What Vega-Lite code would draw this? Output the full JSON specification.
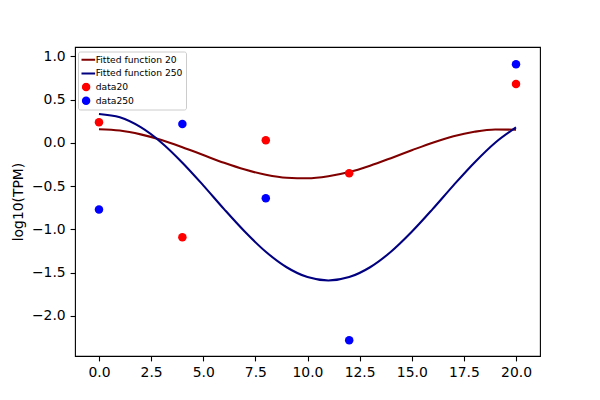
{
  "$schema": "https://vega.github.io/schema/vega-lite/v6.json",
  "width": 465,
  "height": 309,
  "autosize": {"type": "none"},
  "padding": {"left": 75, "top": 47, "right": 60, "bottom": 44},
  "background": "white",
  "datasets": {
    "curves": [
      {"series": "Fitted function 20", "x": 0, "y": 0.158},
      {"series": "Fitted function 20", "x": 1, "y": 0.143},
      {"series": "Fitted function 20", "x": 2, "y": 0.099},
      {"series": "Fitted function 20", "x": 3, "y": 0.034},
      {"series": "Fitted function 20", "x": 4, "y": -0.049},
      {"series": "Fitted function 20", "x": 5, "y": -0.140},
      {"series": "Fitted function 20", "x": 6, "y": -0.230},
      {"series": "Fitted function 20", "x": 7, "y": -0.308},
      {"series": "Fitted function 20", "x": 8, "y": -0.368},
      {"series": "Fitted function 20", "x": 9, "y": -0.403},
      {"series": "Fitted function 20", "x": 10, "y": -0.409},
      {"series": "Fitted function 20", "x": 11, "y": -0.385},
      {"series": "Fitted function 20", "x": 12, "y": -0.337},
      {"series": "Fitted function 20", "x": 13, "y": -0.263},
      {"series": "Fitted function 20", "x": 14, "y": -0.176},
      {"series": "Fitted function 20", "x": 15, "y": -0.085},
      {"series": "Fitted function 20", "x": 16, "y": 0.003},
      {"series": "Fitted function 20", "x": 17, "y": 0.077},
      {"series": "Fitted function 20", "x": 18, "y": 0.129},
      {"series": "Fitted function 20", "x": 19, "y": 0.156},
      {"series": "Fitted function 20", "x": 20, "y": 0.153},
      {"series": "Fitted function 250", "x": 0, "y": 0.335},
      {"series": "Fitted function 250", "x": 1, "y": 0.296},
      {"series": "Fitted function 250", "x": 2, "y": 0.182},
      {"series": "Fitted function 250", "x": 3, "y": 0.003},
      {"series": "Fitted function 250", "x": 4, "y": -0.228},
      {"series": "Fitted function 250", "x": 5, "y": -0.490},
      {"series": "Fitted function 250", "x": 6, "y": -0.765},
      {"series": "Fitted function 250", "x": 7, "y": -1.027},
      {"series": "Fitted function 250", "x": 8, "y": -1.258},
      {"series": "Fitted function 250", "x": 9, "y": -1.437},
      {"series": "Fitted function 250", "x": 10, "y": -1.551},
      {"series": "Fitted function 250", "x": 11, "y": -1.590},
      {"series": "Fitted function 250", "x": 12, "y": -1.551},
      {"series": "Fitted function 250", "x": 13, "y": -1.437},
      {"series": "Fitted function 250", "x": 14, "y": -1.258},
      {"series": "Fitted function 250", "x": 15, "y": -1.027},
      {"series": "Fitted function 250", "x": 16, "y": -0.765},
      {"series": "Fitted function 250", "x": 17, "y": -0.490},
      {"series": "Fitted function 250", "x": 18, "y": -0.228},
      {"series": "Fitted function 250", "x": 19, "y": 0.003},
      {"series": "Fitted function 250", "x": 20, "y": 0.180}
    ],
    "points": [
      {"series": "data20", "x": 0, "y": 0.24},
      {"series": "data20", "x": 4, "y": -1.09},
      {"series": "data20", "x": 8, "y": 0.03},
      {"series": "data20", "x": 12, "y": -0.35},
      {"series": "data20", "x": 20, "y": 0.68},
      {"series": "data250", "x": 0, "y": -0.77},
      {"series": "data250", "x": 4, "y": 0.22},
      {"series": "data250", "x": 8, "y": -0.64},
      {"series": "data250", "x": 12, "y": -2.28},
      {"series": "data250", "x": 20, "y": 0.91}
    ]
  },
  "encoding": {
    "x": {
      "field": "x", "type": "quantitative",
      "scale": {"domain": [-1.15, 21.15], "nice": false, "zero": false},
      "axis": {"values": [0, 2.5, 5, 7.5, 10, 12.5, 15, 17.5, 20], "format": ".1f", "title": null}
    },
    "y": {
      "field": "y", "type": "quantitative",
      "scale": {"domain": [-2.463, 1.109], "nice": false, "zero": false},
      "axis": {"values": [-2, -1.5, -1, -0.5, 0, 0.5, 1], "format": ".1f", "title": "log10(TPM)"}
    },
    "color": {
      "field": "series", "type": "nominal",
      "scale": {
        "domain": ["Fitted function 20", "Fitted function 250", "data20", "data250"],
        "range": ["#800000", "#000080", "#ff0000", "#0000ff"]
      },
      "legend": {
        "title": null,
        "orient": "none",
        "legendX": 3,
        "legendY": 4.5,
        "strokeColor": "#cccccc",
        "fillColor": "rgba(255,255,255,0.8)",
        "cornerRadius": 2,
        "padding": 3.5,
        "labelFont": "DejaVu Sans",
        "labelFontSize": 9.2,
        "labelLimit": 300,
        "labelColor": "black",
        "symbolSize": 324,
        "symbolType": "stroke",
        "clipHeight": 9.4,
        "rowPadding": 3.7,
        "labelOffset": 5,
        "encode": {
          "symbols": {
            "update": {
              "shape": {"signal": "indexof(['data20','data250'], datum.value) >= 0 ? 'circle' : 'stroke'"},
              "size": {"signal": "indexof(['data20','data250'], datum.value) >= 0 ? 72 : 324"},
              "fill": {"scale": "color", "field": "value"},
              "stroke": {"scale": "color", "field": "value"},
              "strokeWidth": {"signal": "indexof(['data20','data250'], datum.value) >= 0 ? 0 : 2"},
              "opacity": {"value": 1},
              "fillOpacity": {"value": 1},
              "strokeOpacity": {"value": 1}
            }
          }
        }
      }
    }
  },
  "layer": [
    {
      "data": {"name": "curves"},
      "mark": {"type": "line", "strokeWidth": 2.08, "interpolate": "monotone"}
    },
    {
      "data": {"name": "points"},
      "mark": {"type": "point", "filled": true, "shape": "circle", "size": 72, "opacity": 1, "strokeWidth": 0}
    }
  ],
  "config": {
    "view": {"stroke": "black", "strokeWidth": 1.1},
    "axis": {
      "domain": false,
      "grid": false,
      "labelFont": "DejaVu Sans",
      "labelFontSize": 13.9,
      "labelColor": "black",
      "labelFlush": false,
      "labelOverlap": false,
      "tickColor": "black",
      "tickSize": 4.9,
      "tickWidth": 1.1,
      "labelPadding": 4.9,
      "titleFont": "DejaVu Sans",
      "titleFontSize": 13.9,
      "titleFontWeight": "normal",
      "titleColor": "black",
      "titlePadding": 5.5
    }
  }
}
